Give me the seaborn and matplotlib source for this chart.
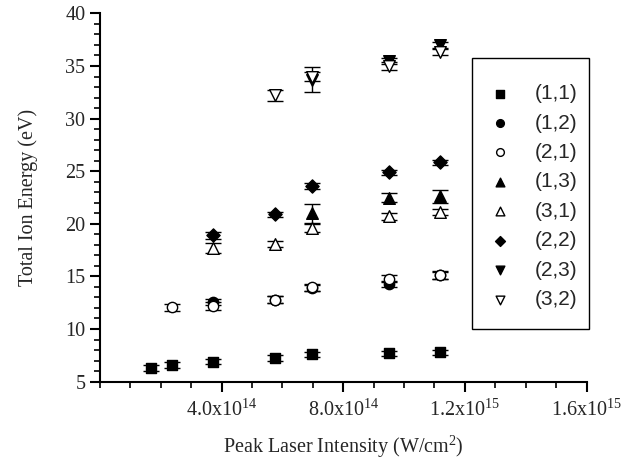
import matplotlib
matplotlib.use("Agg")
import matplotlib.pyplot as plt
import matplotlib.ticker as tic
from matplotlib.patches import Rectangle
import seaborn as sns
import numpy as np

nan = np.nan

# peak laser intensity (W/cm^2) of each measurement column
intensity = [1.69e14, 2.37e14, 3.73e14, 5.75e14, 6.96e14, 9.49e14, 11.19e14]

# total ion energy (eV) per charge-state channel, nan where not measured
e11 = [6.3, 6.6, 6.9, 7.25, 7.6, 7.7, 7.8]
e12 = [nan, nan, 12.6, 12.8, 13.9, 14.25, 15.1]
e21 = [nan, 12.05, 12.2, 12.8, 13.95, 14.8, 15.15]
e13 = [nan, nan, nan, nan, 21.0, 22.5, 22.6]
e31 = [nan, nan, 17.7, 18.1, 19.6, 20.7, 21.1]
e22 = [nan, nan, 18.9, 20.9, 23.6, 24.9, 25.85]
e23 = [nan, nan, nan, nan, 33.7, 35.5, 37.0]
e32 = [nan, nan, nan, 32.2, 34.0, 35.0, 36.3]

# error bars (half width, eV)
err11 = [0.25, 0.3, 0.25, 0.25, 0.25, 0.25, 0.25]
err12 = [nan, nan, 0.3, 0.3, 0.3, 0.3, 0.3]
err21 = [nan, 0.3, 0.4, 0.3, 0.3, 0.35, 0.35]
err13 = [nan, nan, nan, nan, 0.9, 0.45, 0.6]
err31 = [nan, nan, 0.5, 0.3, 0.4, 0.3, 0.3]
err22 = [nan, nan, 0.3, 0.25, 0.25, 0.25, 0.25]
err23 = [nan, nan, nan, nan, 1.2, 0.3, 0.3]
err32 = [nan, nan, nan, 0.55, 0.45, 0.4, 0.3]

labels = ["(1,1)", "(1,2)", "(2,1)", "(1,3)", "(3,1)", "(2,2)", "(2,3)", "(3,2)"]
values = [e11, e12, e21, e13, e31, e22, e23, e32]
errors = [err11, err12, err21, err13, err31, err22, err23, err32]
markers = ["s", "o", "o", "^", "^", "D", "v", "v"]
filled = [True, True, False, True, False, True, True, False]
sizes = [60, 55, 55, 70, 70, 45, 70, 70]

sns.set_style("ticks")
plt.rcParams['font.family'] = ['Liberation Serif', 'DejaVu Serif']
plt.rcParams['mathtext.fontset'] = 'custom'
plt.rcParams['mathtext.rm'] = 'Liberation Serif'
plt.rcParams['mathtext.it'] = 'Liberation Serif'

fig, ax = plt.subplots(figsize=(6.41, 4.62), dpi=100)
fig.subplots_adjust(left=0.156, right=0.915, top=0.971, bottom=0.174)

for lab, y, err, m, f, s in zip(labels, values, errors, markers, filled, sizes):
    ax.errorbar(intensity, y, yerr=err, fmt='none', ecolor='black',
                elinewidth=1.0, capsize=6, capthick=1.0, zorder=2)
    sns.scatterplot(x=intensity, y=y, marker=m, s=s, color='black',
                    facecolor='black' if f else 'white', edgecolor='black',
                    linewidth=1.0, label=lab, ax=ax, zorder=3)

ax.set_xlim(0, 1.6e15)
ax.set_ylim(5, 40)
ax.xaxis.set_major_locator(tic.FixedLocator([4e14, 8e14, 1.2e15, 1.6e15]))
ax.xaxis.set_major_formatter(tic.FixedFormatter(
    ["4.0x10$^{\\mathrm{14}}$", "8.0x10$^{\\mathrm{14}}$",
     "1.2x10$^{\\mathrm{15}}$", "1.6x10$^{\\mathrm{15}}$"]))
ax.xaxis.set_minor_locator(tic.MultipleLocator(1e14))
ax.yaxis.set_major_locator(tic.MultipleLocator(5))
ax.yaxis.set_minor_locator(tic.MultipleLocator(1))

ax.tick_params(axis='both', which='major', direction='out', length=7, width=1.5,
               labelsize=14.5, color='black')
ax.tick_params(axis='x', which='major', pad=6)
ax.tick_params(axis='both', which='minor', direction='out', length=4, width=1.2,
               color='black')
sns.despine(ax=ax)
for side in ['left', 'bottom']:
    ax.spines[side].set_linewidth(1.5)
    ax.spines[side].set_color('black')

ax.set_xlabel("Peak Laser Intensity (W/cm$^{\\mathrm{2}}$)", fontsize=14.5, labelpad=9)
ax.set_ylabel("Total Ion Energy (eV)", fontsize=14.5, labelpad=20)

# legend box drawn separately so its padding matches the original
ax.add_patch(Rectangle((0.764, 0.142), 0.241, 0.737, transform=ax.transAxes,
                       facecolor='white', edgecolor='black', linewidth=1.0,
                       clip_on=False, zorder=4))
leg = ax.legend(loc='upper left', bbox_to_anchor=(0.800, 0.808), frameon=False,
                prop={'family': 'Liberation Sans', 'size': 15},
                borderpad=0, labelspacing=0.5, handlelength=1.0,
                handletextpad=1.18, markerscale=0.75, borderaxespad=0)
leg.set_zorder(5)

plt.savefig("out.png", dpi=100)
